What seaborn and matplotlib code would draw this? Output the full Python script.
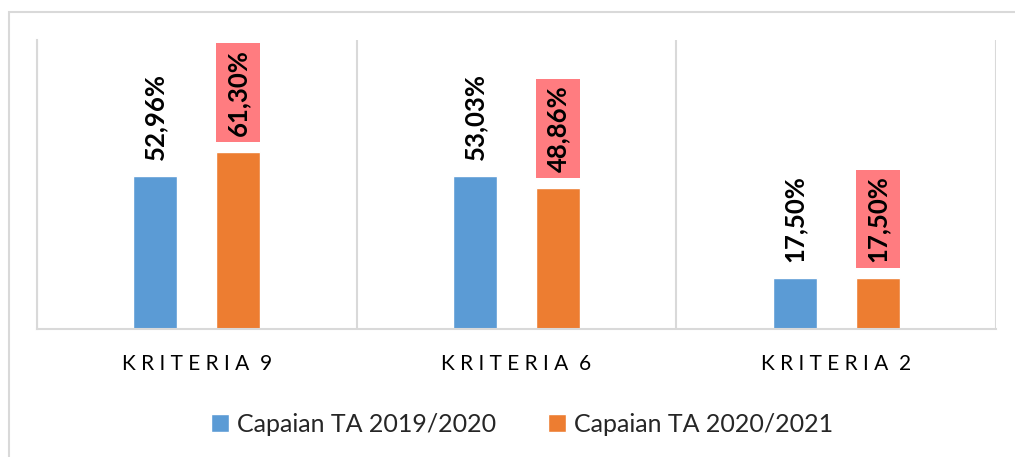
import numpy as np
import pandas as pd
import matplotlib
matplotlib.use("Agg")
from matplotlib import pyplot as plt
from matplotlib import patches, transforms
import seaborn as sns

kriteria = ["KRITERIA 9", "KRITERIA 6", "KRITERIA 2"]
tahun = ["Capaian TA 2019/2020", "Capaian TA 2020/2021"]
capaian_2019 = [52.96, 53.03, 17.50]
capaian_2020 = [61.30, 48.86, 17.50]
warna = ["#5B9BD5", "#ED7D31"]
warna_kotak = "#FF7C80"
abu = "#D9D9D9"

df = pd.DataFrame({
    "kriteria": kriteria * 2,
    "tahun": [tahun[0]] * len(kriteria) + [tahun[1]] * len(kriteria),
    "nilai": capaian_2019 + capaian_2020,
})

sns.set_style("white")
plt.rcParams["font.family"] = ["Lato", "DejaVu Sans"]

fig = plt.figure(figsize=(10.15, 4.57), dpi=100)
ax = fig.add_axes([37 / 1015, 1 - 329 / 457, 959 / 1015, 289 / 457])

sns.barplot(data=df, x="kriteria", y="nilai", hue="tahun", palette=warna,
            width=0.52, gap=0.47, saturation=1, ax=ax)
handles, labels = ax.get_legend_handles_labels()
ax.legend_.remove()

ax.set_ylim(0, 100)
ax.set_xlim(-0.5, len(kriteria) - 0.5)
ax.set_yticks([])
ax.set_xlabel("")
ax.set_ylabel("")
ax.set_xticks(range(len(kriteria)))
# letter-spaced category names
ax.set_xticklabels([" ".join(k.split()[0]) + "  " + k.split()[1] for k in kriteria],
                   fontsize=15, color="#000000")
ax.set_xticks(np.arange(len(kriteria) + 1) - 0.5, minor=True)
ax.grid(which="minor", axis="x", color=abu, lw=1.5)
ax.tick_params(axis="x", which="both", length=0, pad=18)
for s in ["top", "right"]:
    ax.spines[s].set_visible(False)
for s in ["left", "bottom"]:
    ax.spines[s].set_color(abu)
    ax.spines[s].set_linewidth(1.5)

# value labels
teks_oranye = []
for i, cont in enumerate(ax.containers):
    for bar in cont:
        h = bar.get_height()
        lbl = f"{h:.2f}".replace(".", ",") + "%"
        t = ax.annotate(lbl, (bar.get_x() + bar.get_width() / 2, h),
                        xytext=(0, 11.5), textcoords="offset points",
                        rotation=90, ha="center", va="bottom",
                        fontsize=18.5, fontweight="bold", color="black", zorder=4)
        if i == 1:
            teks_oranye.append((t, bar))

fig.canvas.draw()
renderer = fig.canvas.get_renderer()
trans = transforms.blended_transform_factory(ax.transData, transforms.IdentityTransform())
for t, bar in teks_oranye:
    bb = t.get_window_extent(renderer)
    ax.add_patch(patches.Rectangle((bar.get_x(), bb.y0 - 6), bar.get_width(), bb.height + 12,
                                   transform=trans, fc=warna_kotak, ec="none",
                                   zorder=3, clip_on=False))

fig.legend(handles, labels, loc="center", bbox_to_anchor=(522 / 1015, 1 - 424 / 457),
           ncol=2, frameon=False, fontsize=18, handlelength=0.72, handleheight=0.72,
           handletextpad=0.3, columnspacing=2.1)

# chart border
fig.add_artist(patches.Rectangle((8.5 / 1015, -0.05), 1.1, (457 - 11.5) / 457 + 0.05,
                                 transform=fig.transFigure, fill=False, ec=abu, lw=1.5))

fig.savefig("out.png", dpi=100, facecolor="white")
